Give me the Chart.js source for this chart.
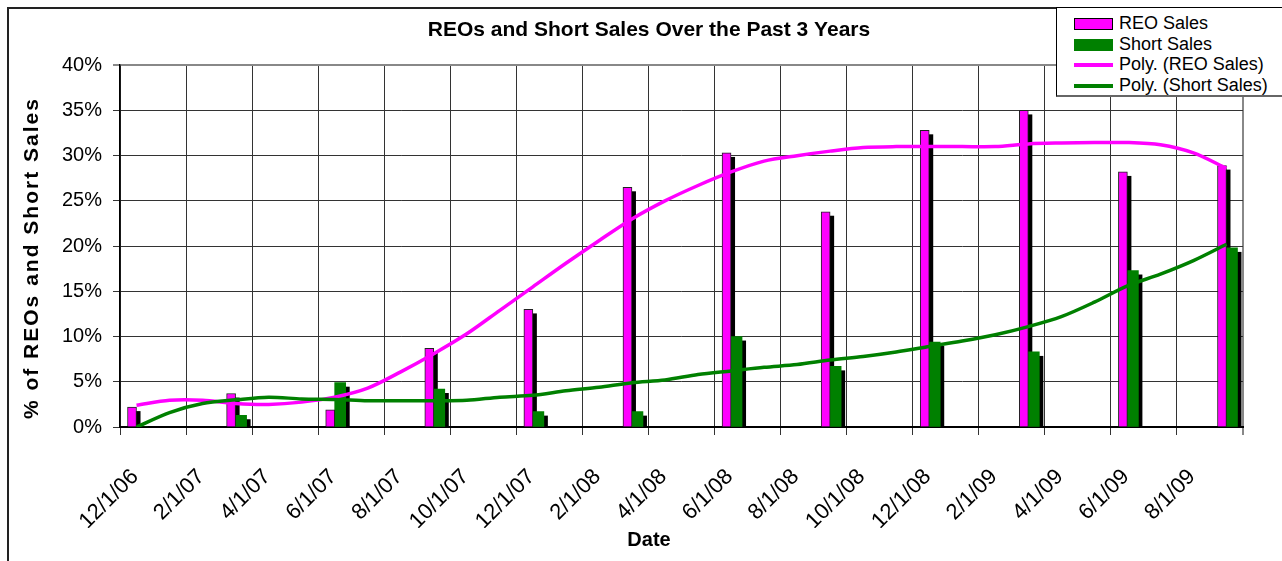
<!DOCTYPE html>
<html>
<head>
<meta charset="utf-8">
<script src="https://cdn.jsdelivr.net/npm/chart.js@4.4.1/dist/chart.umd.min.js"></script>
<style>
  html, body { margin: 0; padding: 0; background: #fff; }
  #wrap { position: relative; width: 1282px; height: 561px; overflow: hidden; }
  #frame { position: absolute; left: 7px; top: 7px; width: 1400px; height: 700px;
           border-left: 2px solid #222; border-top: 2px solid #222; }
  #myChart { position: absolute; left: 0; top: 0; }
  #legend { position: absolute; left: 1056px; top: 7px; width: 260px; height: 87px;
            border: 1px solid #000; border-bottom: 2px solid #666; background: #fff;
            font: 18px "Liberation Sans", Arial, sans-serif; color: #000; }
  .row { position: absolute; left: 17px; height: 20px; line-height: 20px; white-space: nowrap; }
  .sw { display: inline-block; width: 39px; vertical-align: middle; margin-right: 6px; }
</style>
</head>
<body>
<div id="wrap">
  <div id="frame"></div>
  <canvas id="myChart" width="1282" height="561"></canvas>
  <div id="legend"></div>
</div>
<script>
// quarterly points (percent)
var quarters = ['12/1/06', '3/1/07', '6/1/07', '9/1/07', '12/1/07', '3/1/08',
                '6/1/08', '9/1/08', '12/1/08', '3/1/09', '6/1/09', '9/1/09'];
var reoSales = [2.2, 3.7, 1.9, 8.7, 13.0, 26.5, 30.3, 23.8, 32.8, 35.0, 28.2, 28.9];
var shortSales = [0, 1.3, 4.9, 4.2, 1.7, 1.7, 10.0, 6.7, 9.4, 8.3, 17.3, 19.8];

// trend lines, one value per month starting 12/06
var reoTrend = [2.4, 2.95, 2.95, 2.6, 2.5, 2.75, 3.3, 4.3, 6.1, 8.1, 10.3, 12.9,
                15.5, 18.1, 20.6, 23.0, 25.0, 26.7, 28.2, 29.4, 30.0, 30.5, 30.9, 31.0,
                31.0, 31.0, 31.0, 31.3, 31.4, 31.45, 31.45, 31.2, 30.3, 28.6];
var shortTrend = [0, 1.6, 2.6, 3.0, 3.3, 3.1, 3.05, 2.9, 2.9, 2.9, 2.95, 3.3,
                  3.5, 4.0, 4.4, 4.9, 5.2, 5.8, 6.2, 6.6, 6.9, 7.4, 7.8, 8.3,
                  8.9, 9.5, 10.2, 11.1, 12.2, 13.8, 15.6, 16.9, 18.4, 20.2];

var tickLabels = ['12/1/06', '2/1/07', '4/1/07', '6/1/07', '8/1/07', '10/1/07',
                  '12/1/07', '2/1/08', '4/1/08', '6/1/08', '8/1/08', '10/1/08',
                  '12/1/08', '2/1/09', '4/1/09', '6/1/09', '8/1/09'];

var FONT = '"Liberation Sans", Arial, sans-serif';

// months since 12/1/06
function monthIndex(d) {
    var p = d.split('/');
    return (2000 + +p[2]) * 12 + (+p[0]) - (2006 * 12 + 12);
}
function toPoints(vals) {
    return quarters.map(function (d, i) { return { x: monthIndex(d) + 0.5, y: vals[i] }; });
}
function trendPoints(vals) {
    return vals.map(function (v, i) { return { x: i + 0.5, y: v }; });
}

// black drop shadow behind every bar, drawn before any bar
var barShadow = {
    id: 'barShadow',
    beforeDatasetsDraw: function (chart) {
        var ctx = chart.ctx, a = chart.chartArea;
        ctx.save();
        ctx.beginPath();
        ctx.rect(a.left, a.top, a.width, a.height);
        ctx.clip();
        ctx.fillStyle = '#000';
        chart.getSortedVisibleDatasetMetas().forEach(function (meta) {
            if (meta.type !== 'bar') return;
            meta.data.forEach(function (bar) {
                var p = bar.getProps(['x', 'y', 'base', 'width'], true);
                if (p.base - p.y < 0.5) return;
                ctx.fillRect(p.x - p.width / 2 + 4, p.y + 4, p.width, p.base - p.y);
            });
        });
        ctx.restore();
    }
};

// spaced letters on the y title
var spacedTitle = {
    id: 'spacedTitle',
    beforeDraw: function (chart) {
        var s = chart.scales.y;
        if (s._spaced) return;
        var orig = s.drawTitle;
        s.drawTitle = function () {
            this.ctx.save();
            this.ctx.letterSpacing = '2px';
            this.ctx.translate(0, 12);
            orig.call(this);
            this.ctx.restore();
        };
        s._spaced = true;
    }
};

var ctx = document.getElementById('myChart').getContext('2d');
var myChart = new Chart(ctx, {
    type: 'bar',
    data: {
        datasets: [{
            label: 'REO Sales',
            data: toPoints(reoSales),
            backgroundColor: '#ff00ff',
            borderColor: '#222',
            borderWidth: 1,
            barThickness: 9,
            order: 2
        }, {
            label: 'Short Sales',
            data: toPoints(shortSales),
            backgroundColor: '#008000',
            borderWidth: 0,
            barThickness: 11,
            order: 3
        }, {
            type: 'line',
            label: 'Poly. (REO Sales)',
            data: trendPoints(reoTrend),
            borderColor: '#ff00ff',
            borderWidth: 3.5,
            pointRadius: 0,
            tension: 0.3,
            order: 1
        }, {
            type: 'line',
            label: 'Poly. (Short Sales)',
            data: trendPoints(shortTrend),
            borderColor: '#008000',
            borderWidth: 3.5,
            pointRadius: 0,
            tension: 0.3,
            order: 0
        }]
    },
    options: {
        responsive: false,
        animation: false,
        devicePixelRatio: 1,
        layout: { padding: { left: 16, right: 0, top: 0, bottom: 0 } },
        plugins: {
            legend: { display: false },
            tooltip: { enabled: false },
            title: {
                display: true,
                text: 'REOs and Short Sales Over the Past 3 Years',
                color: '#000',
                font: { family: FONT, size: 21, weight: 'bold' },
                padding: { top: 18, bottom: 22 }
            },
            subtitle: {
                display: true,
                position: 'bottom',
                text: 'Date',
                color: '#000',
                font: { family: FONT, size: 20, weight: 'bold' },
                padding: { top: 0, bottom: 9 }
            }
        },
        scales: {
            x: {
                type: 'linear',
                min: 0,
                max: 34,
                offset: false,
                grid: {
                    offset: false,
                    tickLength: 8,
                    color: function (c) { return c.tick && c.tick.value === 34 ? '#888' : '#333'; },
                    lineWidth: function (c) { return c.tick && c.tick.value === 34 ? 2 : 1; }
                },
                border: { color: '#000', width: 2 },
                ticks: {
                    stepSize: 2,
                    autoSkip: false,
                    minRotation: 45,
                    maxRotation: 45,
                    padding: 29,
                    labelOffset: 15,
                    color: '#000',
                    font: { family: FONT, size: 22 },
                    callback: function (v) { return tickLabels[v / 2] || ''; }
                },
                afterFit: function (s) {
                    s.height = 101;
                    s.paddingLeft = 0;
                    s.paddingRight = 0;
                }
            },
            y: {
                min: 0,
                max: 40,
                grid: {
                    tickLength: 7,
                    color: function (c) { return c.tick && c.tick.value === 40 ? '#888' : '#333'; },
                    lineWidth: function (c) { return c.tick && c.tick.value === 40 ? 2 : 1; }
                },
                border: { color: '#000', width: 1.5 },
                ticks: {
                    stepSize: 5,
                    padding: 11,
                    color: '#000',
                    font: { family: FONT, size: 20 },
                    callback: function (v) { return v + '%'; }
                },
                title: {
                    display: true,
                    text: '% of REOs and Short Sales',
                    color: '#000',
                    font: { family: FONT, size: 21, weight: 'bold' },
                    padding: { top: 4, bottom: 0 }
                },
                afterFit: function (s) { s.width = 104; }
            },
            y2: {
                position: 'right',
                grid: { display: false },
                border: { display: false },
                ticks: { display: false },
                afterFit: function (s) { s.width = 39; }
            }
        }
    },
    plugins: [barShadow, spacedTitle]
});

// html legend from the datasets
var legendBox = document.getElementById('legend');
myChart.data.datasets.forEach(function (ds, i) {
    var row = document.createElement('div');
    row.className = 'row';
    row.style.top = (5 + i * 20.5) + 'px';
    var sw = document.createElement('span');
    sw.className = 'sw';
    if (ds.type === 'line') {
        sw.style.height = '4px';
        sw.style.background = ds.borderColor;
    } else {
        sw.style.height = '12px';
        sw.style.background = ds.backgroundColor;
        sw.style.boxSizing = 'border-box';
        if (ds.borderWidth) sw.style.border = '1px solid #000';
    }
    row.appendChild(sw);
    row.appendChild(document.createTextNode(ds.label));
    legendBox.appendChild(row);
});
</script>
</body>
</html>
